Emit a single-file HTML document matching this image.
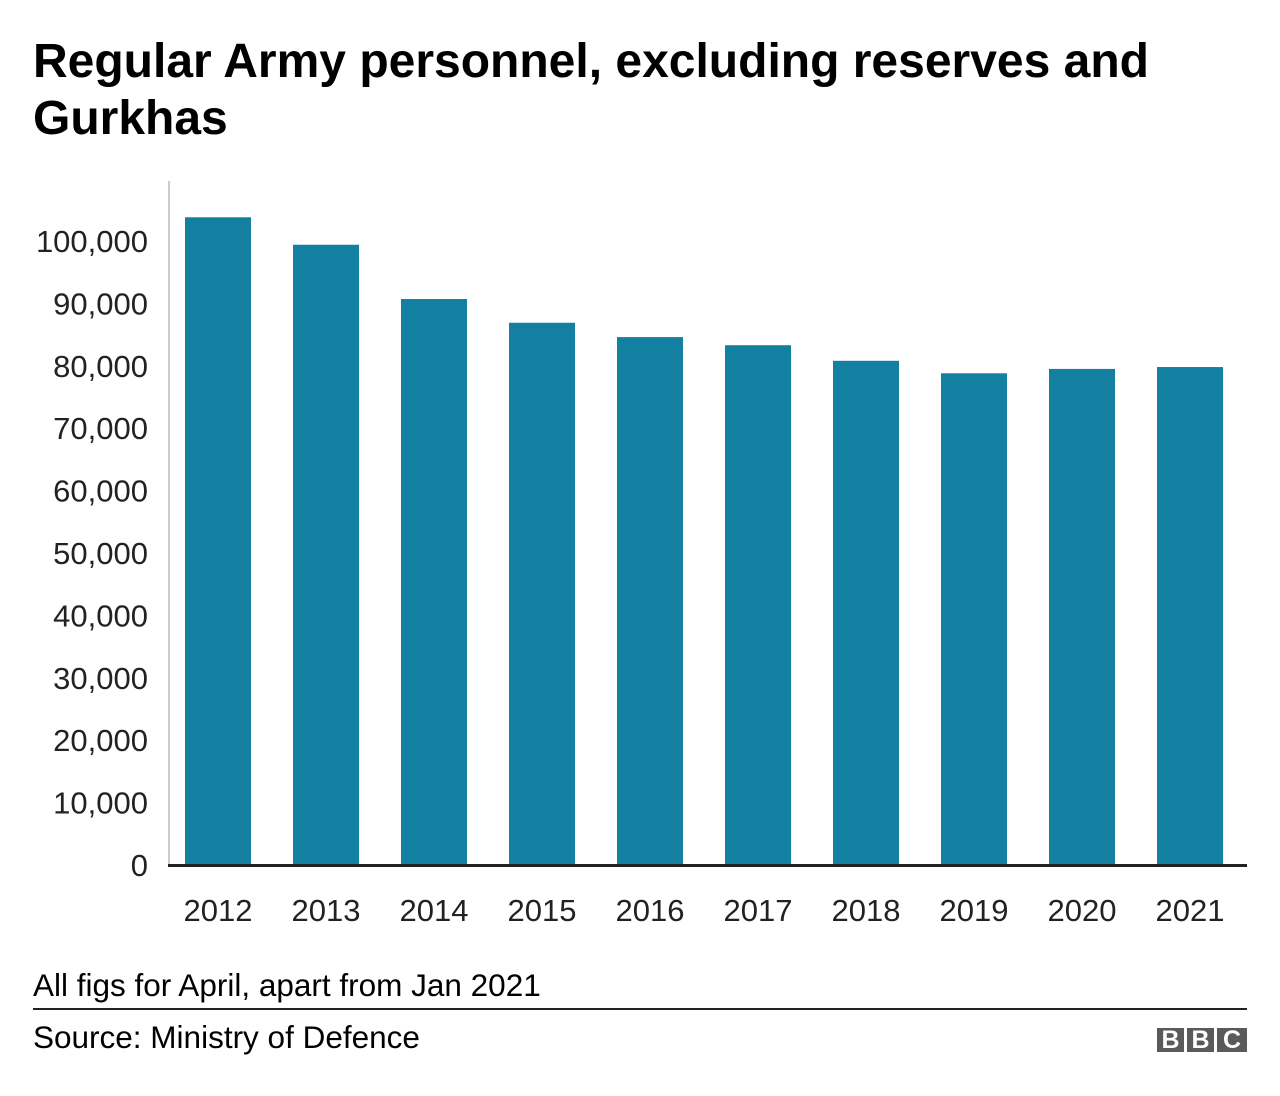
<!DOCTYPE html>
<html><head><meta charset="utf-8">
<style>
body{margin:0;background:#fff;font-family:"Liberation Sans",Arial,sans-serif;}
#wrap{position:relative;width:1280px;height:1096px;}
h1{position:absolute;left:33px;top:33px;margin:0;font-size:48px;line-height:57px;font-weight:bold;color:#000;width:1230px;}
.note{position:absolute;left:33px;font-size:31.5px;color:#000;line-height:36px;}
.bx{width:27px;height:24px;background:#5a5a5a;color:#fff;font:bold 25px 'Liberation Sans',sans-serif;text-align:center;line-height:25px}
</style></head><body>
<div id="wrap">
<h1>Regular Army personnel, excluding reserves and Gurkhas</h1>
<svg id="chart" width="1280" height="1096" style="position:absolute;left:0;top:0"></svg>
<div class="note" style="top:967px">All figs for April, apart from Jan 2021</div>
<div style="position:absolute;left:33px;top:1008px;width:1214px;height:2px;background:#222"></div>
<div class="note" style="top:1019px">Source: Ministry of Defence</div>
<div style="position:absolute;left:1157px;top:1028px;display:flex;gap:3px">
<div class="bx">B</div><div class="bx">B</div><div class="bx" style="width:30px">C</div>
</div>
</div>
<script>
const years=["2012","2013","2014","2015","2016","2017","2018","2019","2020","2021"];
const personnel=[103800,99400,90700,86900,84600,83300,80800,78800,79500,79800];
const yTicks=[0,10000,20000,30000,40000,50000,60000,70000,80000,90000,100000];
const NS="http://www.w3.org/2000/svg";
const svg=document.getElementById('chart');
const y0=865,pxPer=624/100000;
const y=v=>y0-v*pxPer;
const x=i=>185+i*108;
function mk(t,a){const e=document.createElementNS(NS,t);for(const k in a)e.setAttribute(k,a[k]);svg.appendChild(e);return e;}
let ax=mk('rect',{x:168,y:181,width:2,height:y0-181,fill:'#cccccc'});


yTicks.forEach(v=>{
 const t=mk('text',{x:148,y:y(v)+11,'text-anchor':'end','font-size':'31','font-family':'Liberation Sans, sans-serif',fill:'#222'});
 t.textContent=v.toLocaleString('en-US');
 
 
});
personnel.forEach((v,i)=>{
 const r=mk('rect',{x:x(i),y:y(v),width:66,height:y0-y(v),fill:'#1380A1'});
 
 
 const t=mk('text',{x:x(i)+33,y:921,'text-anchor':'middle','font-size':'31','font-family':'Liberation Sans, sans-serif',fill:'#222'});
 t.textContent=years[i];
 
 
});
let base=mk('rect',{x:168,y:y0-1,width:1079,height:3,fill:'#222'});


</script>
</body></html>
